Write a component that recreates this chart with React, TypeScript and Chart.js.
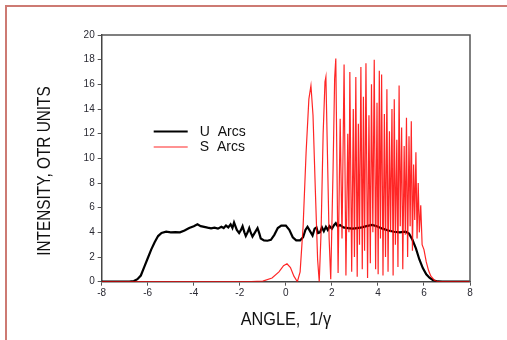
import React, { useEffect, useRef } from "react";
import { Chart, registerables } from "chart.js";

Chart.register(...registerables);

const seriesLabels = ["U Arcs", "S Arcs"];

const uArcX = [
  -8, -6.8, -6.6, -6.45, -6.3, -6.15, -6.0, -5.85, -5.7, -5.55, -5.4, -5.2, -5.0, -4.8, -4.6, -4.4, -4.2, -4.0,
  -3.84, -3.7, -3.55, -3.4, -3.25, -3.1, -2.95, -2.8, -2.7, -2.6, -2.5, -2.4, -2.32, -2.25, -2.13, -2.03, -1.95,
  -1.88, -1.8, -1.74, -1.66, -1.59, -1.52, -1.45, -1.34, -1.23, -1.15, -1.09, -0.95, -0.8, -0.65, -0.5, -0.35,
  -0.2, 0.0, 0.15, 0.3, 0.45, 0.62, 0.75, 0.85, 0.94, 1.05, 1.16, 1.25, 1.33, 1.4, 1.48, 1.57, 1.65, 1.74, 1.82,
  1.9, 2.0, 2.1, 2.17, 2.25, 2.35, 2.5, 2.7, 2.9, 3.1, 3.3, 3.5, 3.75, 3.95, 4.2, 4.45, 4.7, 4.95, 5.2, 5.35, 5.5,
  5.65, 5.8, 5.95, 6.1, 6.25, 6.4, 6.6, 6.8, 8,
];
const uArcY = [
  0, 0, 0.05, 0.2, 0.5, 1.2, 1.9, 2.6, 3.2, 3.7, 3.95, 4.05, 4.0, 4.02, 4.0, 4.15, 4.35, 4.5,
  4.65, 4.5, 4.45, 4.38, 4.32, 4.38, 4.3, 4.45, 4.35, 4.55, 4.4, 4.65, 4.35, 4.8, 4.2, 3.95, 4.2,
  4.5, 4.0, 3.7, 4.0, 4.35, 3.95, 3.65, 4.0, 4.35, 3.9, 3.5, 3.35, 3.32, 3.4, 3.8, 4.35,
  4.55, 4.55, 4.2, 3.6, 3.35, 3.35, 3.6, 4.2, 4.45, 4.1, 3.75, 4.3, 4.4, 3.95, 4.0, 4.4, 4.1, 4.45, 4.2,
  4.5, 4.3, 4.6, 4.75, 4.5, 4.6, 4.4, 4.35, 4.3, 4.35, 4.4, 4.5, 4.6, 4.5, 4.3, 4.15, 4.05, 4.0, 4.05, 3.9, 3.4,
  2.7, 1.8, 1.1, 0.6, 0.3, 0.12, 0.02, 0, 0,
];

const sArcX = [
  -8, -1.5, -1.0, -0.6, -0.3, -0.1, 0.05, 0.2, 0.35, 0.5, 0.62, 0.75, 0.88, 1.0, 1.09, 1.18, 1.28, 1.38, 1.45,
  1.53, 1.62, 1.7, 1.74, 1.8, 1.88, 1.95, 2.05, 2.12, 2.17, 2.27, 2.36, 2.44, 2.53, 2.61, 2.69, 2.74, 2.78, 2.86,
  2.93, 2.98, 3.04, 3.1, 3.15, 3.2, 3.26, 3.32, 3.37, 3.42, 3.48, 3.55, 3.61, 3.67, 3.72, 3.78, 3.84, 3.9, 3.96,
  4.01, 4.06, 4.11, 4.16, 4.22, 4.28, 4.33, 4.39, 4.44, 4.5, 4.55, 4.61, 4.66, 4.71, 4.76, 4.82, 4.87, 4.92, 4.97,
  5.03, 5.08, 5.14, 5.19, 5.24, 5.29, 5.35, 5.4, 5.45, 5.5, 5.55, 5.6, 5.65, 5.7, 5.75, 5.8, 5.86, 5.92, 6.0, 6.1,
  6.2, 6.3, 6.45, 6.6, 8,
];
const sArcY = [
  0, 0, 0.05, 0.3, 0.8, 1.3, 1.45, 1.15, 0.45, 0, 0.8, 4.5, 10.5, 14.8, 15.9, 13.5, 7.5, 1.8, 0,
  4.0, 12.0, 16.2, 16.6, 11.0, 3.5, 0.2, 9.0, 16.5, 18.1, 0.7, 13.2, 3.5, 17.6, 0.5, 12.0, 4.0, 17.0, 0.8,
  14.0, 2.0, 16.6, 0.4, 12.8, 3.0, 17.4, 1.0, 15.0, 2.5, 17.7, 0.3, 13.5, 1.5, 16.0, 4.0, 18.0, 1.0, 14.5,
  0.6, 17.1, 3.5, 16.8, 0.5, 13.6, 2.0, 15.6, 0.8, 12.2, 4.0, 14.0, 0.5, 14.8, 3.0, 11.5, 1.2, 15.9, 4.5,
  12.5, 1.0, 11.0, 3.8, 13.3, 2.0, 11.8, 4.5, 13.0, 2.5, 9.5, 5.0, 10.5, 3.5, 8.0, 4.0, 6.2, 3.0, 2.6, 1.6,
  0.9, 0.45, 0.12, 0, 0,
];

const xTickValues = [-8, -6, -4, -2, 0, 2, 4, 6, 8];
const yTickValues = [0, 2, 4, 6, 8, 10, 12, 14, 16, 18, 20];

const xTitle = "ANGLE, 1/\u03b3";
const yTitle = "INTENSITY, OTR UNITS";

const toPoints = (xs: number[], ys: number[]) => xs.map((x, i) => ({ x, y: ys[i] }));

const FONT = '"Liberation Sans", Arial, Helvetica, sans-serif';

const framePlugin = {
  id: "frameBox",
  afterDatasetsDraw(chart: any) {
    const { ctx, chartArea } = chart;
    const { left, right, top, bottom } = chartArea;
    ctx.save();
    ctx.strokeStyle = "#555";
    ctx.lineWidth = 1.5;
    ctx.beginPath();
    ctx.moveTo(left, top);
    ctx.lineTo(right, top);
    ctx.lineTo(right, bottom);
    ctx.stroke();
    ctx.restore();
  },
};

const textPlugin = {
  id: "customTexts",
  afterDraw(chart: any) {
    const { ctx, chartArea } = chart;
    ctx.save();
    ctx.fillStyle = "#111";
    ctx.font = `18.5px ${FONT}`;
    ctx.textAlign = "center";
    ctx.textBaseline = "middle";
    ctx.save();
    ctx.translate((chartArea.left + chartArea.right) / 2, 320);
    ctx.scale(0.88, 1);
    (ctx as any).wordSpacing = "5px";
    ctx.fillText(xTitle, 0, 0);
    (ctx as any).wordSpacing = "0px";
    ctx.restore();
    ctx.save();
    ctx.translate(45, 171);
    ctx.rotate(-Math.PI / 2);
    ctx.scale(0.83, 1);
    ctx.fillText(yTitle, 0, 0);
    ctx.restore();

    const lx = chartArea.left + 52;
    const ly = chartArea.top + 96.5;
    chart.data.datasets.forEach((ds: any, i: number) => {
      const y = ly + i * 15.5;
      ctx.strokeStyle = ds.borderColor;
      ctx.lineWidth = ds.borderWidth;
      ctx.beginPath();
      ctx.moveTo(lx, y);
      ctx.lineTo(lx + 34, y);
      ctx.stroke();
      ctx.font = `14px ${FONT}`;
      ctx.textAlign = "left";
      ctx.textBaseline = "middle";
      ctx.fillStyle = "#111";
      (ctx as any).wordSpacing = "4px";
      ctx.fillText(ds.label, lx + 46, y + 0.5);
      (ctx as any).wordSpacing = "0px";
    });
    ctx.restore();
  },
};

export default function App() {
  const canvasRef = useRef<HTMLCanvasElement | null>(null);

  useEffect(() => {
    if (!canvasRef.current) return;
    const chart = new Chart(canvasRef.current, {
      type: "line",
      data: {
        datasets: [
          {
            label: seriesLabels[0],
            data: toPoints(uArcX, uArcY),
            borderColor: "#000000",
            borderWidth: 2.2,
            pointRadius: 0,
            tension: 0,
            order: 2,
          },
          {
            label: seriesLabels[1],
            data: toPoints(sArcX, sArcY),
            borderColor: "rgba(255,0,0,0.85)",
            borderWidth: 1.2,
            pointRadius: 0,
            tension: 0,
            order: 1,
          },
        ],
      },
      options: {
        animation: false,
        responsive: false,
        maintainAspectRatio: false,
        devicePixelRatio: 1,
        layout: { padding: { left: 0, right: 37, top: 35, bottom: 0 } },
        plugins: { legend: { display: false }, tooltip: { enabled: false } },
        scales: {
          x: {
            type: "linear",
            min: -8,
            max: 8,
            afterBuildTicks: (scale: any) => {
              scale.ticks = xTickValues.map((v) => ({ value: v }));
            },
            afterFit: (scale: any) => {
              scale.height = 58.3;
            },
            ticks: {
              font: { size: 10, family: FONT },
              color: "#2a2a33",
              padding: 2,
              maxRotation: 0,
            },
            grid: { drawOnChartArea: false, drawTicks: true, tickLength: 4, color: "#555", lineWidth: 1 },
            border: { display: true, color: "#444", width: 1.5 },
          },
          y: {
            type: "linear",
            min: 0,
            max: 20,
            afterBuildTicks: (scale: any) => {
              scale.ticks = yTickValues.map((v) => ({ value: v }));
            },
            afterFit: (scale: any) => {
              scale.width = 101.7;
            },
            ticks: {
              font: { size: 10, family: FONT },
              color: "#2a2a33",
              padding: 3,
            },
            grid: { drawOnChartArea: false, drawTicks: true, tickLength: 4, color: "#555", lineWidth: 1 },
            border: { display: true, color: "#444", width: 1.5 },
          },
        },
      },
      plugins: [framePlugin, textPlugin],
    });
    return () => chart.destroy();
  }, []);

  return (
    <div
      style={{
        position: "absolute",
        left: 0,
        top: 0,
        width: 507,
        height: 340,
        overflow: "hidden",
        background: "#ffffff",
      }}
    >
      <canvas
        ref={canvasRef}
        width={507}
        height={340}
        style={{ position: "absolute", left: 0, top: 0, width: 507, height: 340 }}
      />
      <div
        style={{
          position: "absolute",
          left: 5,
          top: 5,
          width: 600,
          height: 400,
          borderTop: "2px solid #cd7a73",
          borderLeft: "2px solid #cd7a73",
          pointerEvents: "none",
        }}
      />
    </div>
  );
}
